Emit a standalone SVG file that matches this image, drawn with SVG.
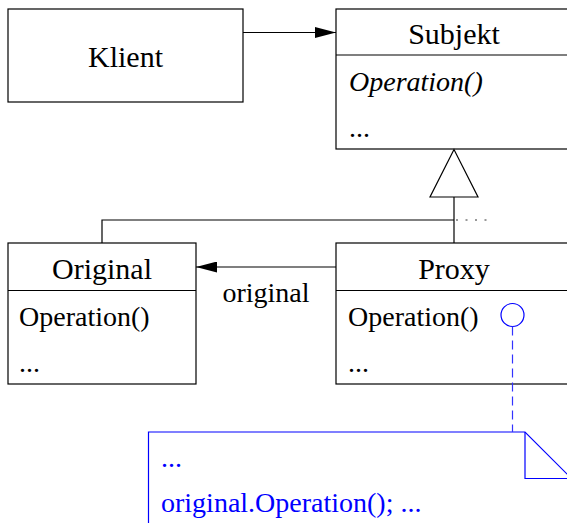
<svg xmlns="http://www.w3.org/2000/svg" width="567" height="523" viewBox="0 0 567 523">
  <style>
    .box { fill: #fff; stroke: #000; stroke-width: 1.2; }
    .line { fill: none; stroke: #000; stroke-width: 1.2; }
    text { font-family: 'Liberation Serif', 'Times New Roman', Times, 'DejaVu Serif', serif; font-size: 28px; }
    .t { fill: #000; }
    .title { text-anchor: middle; font-size: 30px; }
    .it { font-style: italic; }
    .note { fill: none; stroke: #0000ff; stroke-width: 1.2; }
    .nt { fill: #0000ff; }
  </style>
  <defs>
    <marker id="arrow" markerWidth="21" markerHeight="11" refX="21" refY="5.5" orient="auto" markerUnits="userSpaceOnUse">
      <path d="M0,0 L21,5.5 L0,11 Z" fill="#000"/>
    </marker>
  </defs>

  <!-- Client -->
  <g id="klient">
    <rect class="box" x="8" y="9" width="235" height="93"/>
    <text class="t title" x="125.5" y="67">Klient</text>
  </g>

  <!-- Subject (abstract) -->
  <g id="subjekt">
    <rect class="box" x="336" y="9" width="250" height="140"/>
    <line class="line" x1="336" y1="55" x2="586" y2="55"/>
    <text class="t title" x="454" y="44">Subjekt</text>
    <text class="t it" x="349" y="91">Operation()</text>
    <text class="t" x="349" y="137">...</text>
  </g>

  <!-- Real subject -->
  <g id="original">
    <rect class="box" x="8" y="243" width="188" height="141"/>
    <line class="line" x1="8" y1="290.5" x2="196" y2="290.5"/>
    <text class="t title" x="102" y="279">Original</text>
    <text class="t" x="19" y="326">Operation()</text>
    <text class="t" x="19" y="372">...</text>
  </g>

  <!-- Proxy -->
  <g id="proxy">
    <rect class="box" x="336" y="243" width="250" height="141"/>
    <line class="line" x1="336" y1="290.5" x2="586" y2="290.5"/>
    <text class="t title" x="454" y="279">Proxy</text>
    <text class="t" x="348" y="326">Operation()</text>
    <text class="t" x="348" y="372">...</text>
  </g>

  <!-- Implementation note -->
  <g id="note">
    <path class="note" d="M148.5,523 V432 H525 L572,479 V523"/>
    <path class="note" d="M525,432 V478.5 H572"/>
    <text class="nt" x="161" y="467">...</text>
    <text class="nt" x="161" y="512">original.Operation(); ...</text>
  </g>

  <g id="connectors">
    <!-- association Klient -> Subjekt -->
    <line class="line" x1="243" y1="32.5" x2="336" y2="32.5" marker-end="url(#arrow)"/>
    <!-- generalisation -->
    <polygon class="line" points="454,149.5 430,197 478,197" style="fill:#fff"/>
    <line class="line" x1="454" y1="197" x2="454" y2="243"/>
    <polyline class="line" points="102,243 102,220 454,220"/>
    <line x1="456" y1="220" x2="490" y2="220" stroke="#333" stroke-width="1" stroke-dasharray="2 7.5"/>
    <!-- association Proxy -> Original -->
    <line class="line" x1="336" y1="267" x2="196" y2="267" marker-end="url(#arrow)"/>
    <text class="t" x="266" y="302" text-anchor="middle">original</text>
    <!-- note anchor -->
    <circle cx="512.5" cy="315" r="11.5" fill="none" stroke="#0000ff" stroke-width="1.2"/>
    <line x1="512.5" y1="326.5" x2="512.5" y2="432" stroke="#3333ff" stroke-width="1.2" stroke-dasharray="9 5"/>
  </g>
</svg>
